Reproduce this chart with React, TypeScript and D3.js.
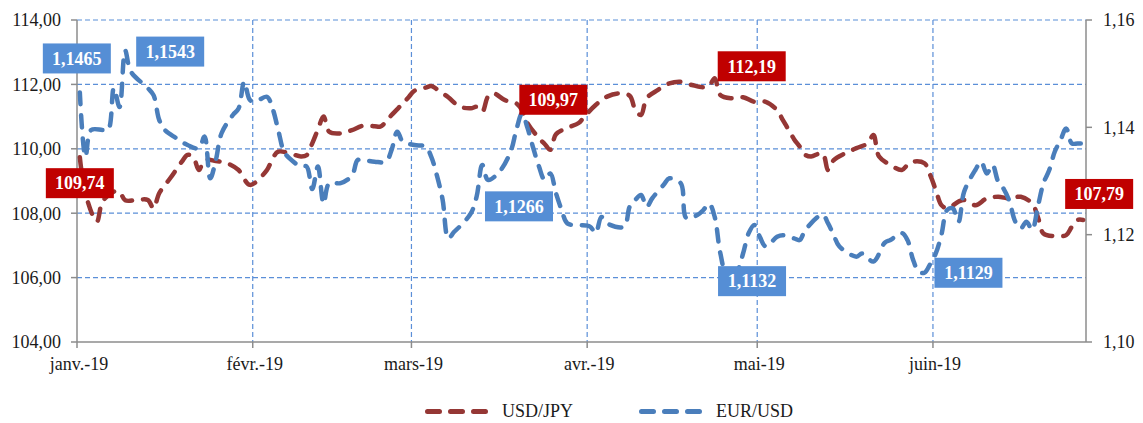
import React from "react";
import * as d3 from "d3";

// ---- data (days since 1 Jan 2019, trading days) ----
const jpyDays = [0,1,3,4,6,7,8,10,12,13,14,16,18,19,20,21,22,24,26,28,30,33,34,35,37,39,40,41,42,43,44,46,48,50,52,53,54,55,57,58,59,61,62,63,65,67,69,70,71,72,73,75,77,78,79,81,82,83,84,86,88,89,91,93,95,97,98,99,100,102,104,106,108,110,111,112,113,115,117,119,121,123,124,125,126,127,128,129,131,132,133,135,137,139,140,141,143,145,146,147,149,150,151,152,153,155,156,158,160,162,164,166,168,169,170,172,174,175,176,177];
const jpyValues = [109.74,108.6,107.74,108.36,108.67,108.67,108.4,108.41,108.41,108.15,108.62,109.1,109.6,109.81,109.75,109.34,109.65,109.62,109.55,109.34,108.88,109.34,109.7,109.91,109.86,109.76,109.8,110.17,110.6,111.0,110.53,110.48,110.58,110.72,110.7,110.69,110.84,111.05,111.41,111.6,111.8,111.9,111.95,111.85,111.6,111.31,111.26,111.3,111.15,111.62,111.72,111.51,111.41,111.2,110.79,110.33,110.15,109.97,110.45,110.65,110.8,111.0,111.36,111.62,111.72,111.65,111.2,111.05,111.57,111.83,112.03,112.08,111.98,111.91,111.95,112.19,111.67,111.57,111.6,111.46,111.46,111.2,110.9,110.6,110.3,110.07,109.81,109.76,109.86,109.34,109.65,109.86,110.02,110.17,110.43,109.76,109.5,109.34,109.5,109.6,109.55,109.19,108.72,108.25,108.15,108.36,108.41,108.25,108.46,108.51,108.46,108.51,108.3,107.89,107.37,107.29,107.32,107.58,107.79,107.79];

const eurDays = [0,1,2,4,5,6,7,8,9,12,13,14,15,17,19,21,22,23,24,25,27,28,29,30,31,33,34,35,36,37,39,40,41,42,43,44,46,48,49,50,52,54,55,56,57,59,61,62,63,64,65,66,67,69,70,71,72,74,76,77,78,79,80,81,82,83,84,85,86,88,90,91,92,93,96,97,98,99,100,101,103,104,106,107,109,110,111,112,113,114,116,117,118,119,120,121,123,124,126,127,128,131,132,133,134,137,138,140,142,143,145,146,147,148,149,150,151,152,153,154,155,156,158,159,160,161,162,163,164,165,166,167,168,169,170,171,172,173,174,175,176,177];
const eurValues = [1.1465,1.1345,1.1395,1.1395,1.1395,1.1473,1.1438,1.1543,1.1504,1.1473,1.146,1.1414,1.1395,1.138,1.1367,1.1361,1.1383,1.1305,1.1339,1.1389,1.1423,1.1435,1.1485,1.1451,1.1448,1.1457,1.1435,1.1395,1.1355,1.1342,1.1327,1.1327,1.1285,1.1327,1.1258,1.1296,1.1296,1.131,1.1339,1.1339,1.1336,1.1336,1.1358,1.1392,1.1373,1.1367,1.1364,1.1345,1.131,1.1265,1.1193,1.1205,1.1215,1.124,1.1271,1.133,1.1302,1.1317,1.1355,1.1395,1.1426,1.1398,1.1361,1.1327,1.1302,1.1314,1.1277,1.1246,1.1221,1.1218,1.1215,1.1203,1.1233,1.1221,1.1215,1.1252,1.1265,1.1274,1.1252,1.1268,1.1293,1.1305,1.1296,1.1231,1.1237,1.1246,1.1258,1.1233,1.1165,1.1132,1.1135,1.1165,1.1203,1.1218,1.1195,1.1178,1.1196,1.1199,1.1193,1.119,1.1209,1.1237,1.1221,1.1199,1.1178,1.1159,1.1165,1.115,1.1185,1.119,1.1203,1.119,1.1153,1.1131,1.1129,1.1145,1.1165,1.12,1.1246,1.1249,1.1224,1.128,1.1321,1.1336,1.1314,1.133,1.1299,1.1285,1.1262,1.1225,1.1212,1.1224,1.1209,1.1252,1.1296,1.132,1.1355,1.1376,1.1398,1.137,1.137,1.137];

const leftTicks = [104, 106, 108, 110, 112, 114];
const rightTicks = [1.10, 1.12, 1.14, 1.16];
const monthStarts = [0, 31, 59, 90, 120, 151];
const monthLabels = ["janv.-19", "févr.-19", "mars-19", "avr.-19", "mai-19", "juin-19"];
const seriesNames = ["USD/JPY", "EUR/USD"];

// data labels: series, day, text, label offset from point
const labelSeries = ["eur", "eur", "jpy", "jpy", "eur", "jpy", "eur", "eur", "jpy"];
const labelDays = [0, 8, 0, 83, 84, 112, 114, 149, 177];
const labelTexts = ["1,1465", "1,1543", "109,74", "109,97", "1,1266", "112,19", "1,1132", "1,1129", "107,79"];
const labelDx = [-3, 45, 0, 3, -37, 37, 26, 44, 16];
const labelDy = [-34, 1, 26, -50, 13, -12, 10, 0, -26];

const W = 1143, H = 423;
const RED = "#953735", BLUE = "#4A7EBB";
const RED_BOX = "#C00000", BLUE_BOX = "#558ED5";
const GRID = "#5B8FD8", AXIS = "#8C8C8C";
const FONT = "'Liberation Serif', 'Times New Roman', serif";

export default function App() {
  const x = d3.scaleLinear().domain([0, 178]).range([77, 1086]);
  const yL = d3.scaleLinear().domain([104, 114]).range([342, 20]);
  const yR = d3.scaleLinear().domain([1.10, 1.16]).range([342, 20]);
  const px = (d: number) => x(d + 0.5);

  const jpy = jpyDays.map((d, i) => [d, jpyValues[i]] as [number, number]);
  const eur = eurDays.map((d, i) => [d, eurValues[i]] as [number, number]);

  const curve = d3.curveCatmullRom.alpha(0.5);
  const lineJ = d3.line<[number, number]>().x((p) => px(p[0])).y((p) => yL(p[1])).curve(curve);
  const lineE = d3.line<[number, number]>().x((p) => px(p[0])).y((p) => yR(p[1])).curve(curve);

  const [x0, x1] = x.range();
  const [yb, yt] = yL.range();

  const dash = "12 11";
  const sw = 4.5;

  return (
    <svg width={W} height={H} style={{ position: "absolute", left: 0, top: 0, background: "#fff" }} fontFamily={FONT}>
      {/* horizontal gridlines */}
      {leftTicks.filter((t) => t !== 104).map((t) => (
        <line key={"h" + t} x1={x0} x2={x1} y1={yL(t)} y2={yL(t)} stroke={GRID} strokeWidth={1.2} strokeDasharray="5 3" />
      ))}
      {/* vertical gridlines */}
      {monthStarts.slice(1).map((m) => (
        <line key={"v" + m} x1={x(m)} x2={x(m)} y1={yt} y2={yb} stroke={GRID} strokeWidth={1.2} strokeDasharray="5 3" />
      ))}
      {/* axes */}
      <line x1={x0} x2={x0} y1={yt} y2={yb} stroke={AXIS} strokeWidth={1.5} />
      <line x1={x1} x2={x1} y1={yt} y2={yb} stroke={AXIS} strokeWidth={1.5} />
      <line x1={x0} x2={x1} y1={yb} y2={yb} stroke={AXIS} strokeWidth={1.5} />
      {leftTicks.map((t) => (
        <g key={"lt" + t}>
          <line x1={x0 - 6} x2={x0} y1={yL(t)} y2={yL(t)} stroke={AXIS} strokeWidth={1.5} />
          <text x={61} y={yL(t)} dy="0.35em" textAnchor="end" fontSize={18} fill="#1a1a1a">
            {d3.format(".2f")(t).replace(".", ",")}
          </text>
        </g>
      ))}
      {rightTicks.map((t) => (
        <g key={"rt" + t}>
          <line x1={x1} x2={x1 + 6} y1={yR(t)} y2={yR(t)} stroke={AXIS} strokeWidth={1.5} />
          <text x={1103} y={yR(t)} dy="0.35em" textAnchor="start" fontSize={18} fill="#1a1a1a">
            {d3.format(".2f")(t).replace(".", ",")}
          </text>
        </g>
      ))}
      {monthStarts.map((m, i) => (
        <g key={"mt" + m}>
          <line x1={x(m)} x2={x(m)} y1={yb} y2={yb + 6} stroke={AXIS} strokeWidth={1.5} />
          <text x={x(m) + 2} y={370} textAnchor="middle" fontSize={18} fill="#1a1a1a">
            {monthLabels[i]}
          </text>
        </g>
      ))}

      {/* series */}
      <path d={lineJ(jpy) || ""} fill="none" stroke={RED} strokeWidth={sw} strokeDasharray={dash} strokeLinecap="round" strokeLinejoin="round" />
      <path d={lineE(eur) || ""} fill="none" stroke={BLUE} strokeWidth={sw} strokeDasharray={dash} strokeLinecap="round" strokeLinejoin="round" />

      {/* data labels */}
      {labelTexts.map((t, i) => {
        const isJ = labelSeries[i] === "jpy";
        const days = isJ ? jpyDays : eurDays;
        const vals = isJ ? jpyValues : eurValues;
        const idx = days.indexOf(labelDays[i]);
        const cx = px(labelDays[i]) + labelDx[i];
        const cy = (isJ ? yL(vals[idx]) : yR(vals[idx])) + labelDy[i];
        return (
          <g key={"lb" + i}>
            <rect x={cx - 34} y={cy - 15} width={68} height={30} fill={isJ ? RED_BOX : BLUE_BOX} />
            <text x={cx} y={cy} dy="0.35em" textAnchor="middle" fontSize={18} fontWeight="bold" fill="#fff">
              {t}
            </text>
          </g>
        );
      })}

      {/* legend */}
      {seriesNames.map((n, i) => {
        const lx = i === 0 ? 425 : 639;
        return (
          <g key={"lg" + n}>
            <line x1={lx + 2.5} x2={lx + 61} y1={411.5} y2={411.5} stroke={i === 0 ? RED : BLUE} strokeWidth={5} strokeDasharray={dash} strokeLinecap="round" />
            <text x={lx + 77} y={417} fontSize={18} fill="#1a1a1a">{n}</text>
          </g>
        );
      })}
    </svg>
  );
}
